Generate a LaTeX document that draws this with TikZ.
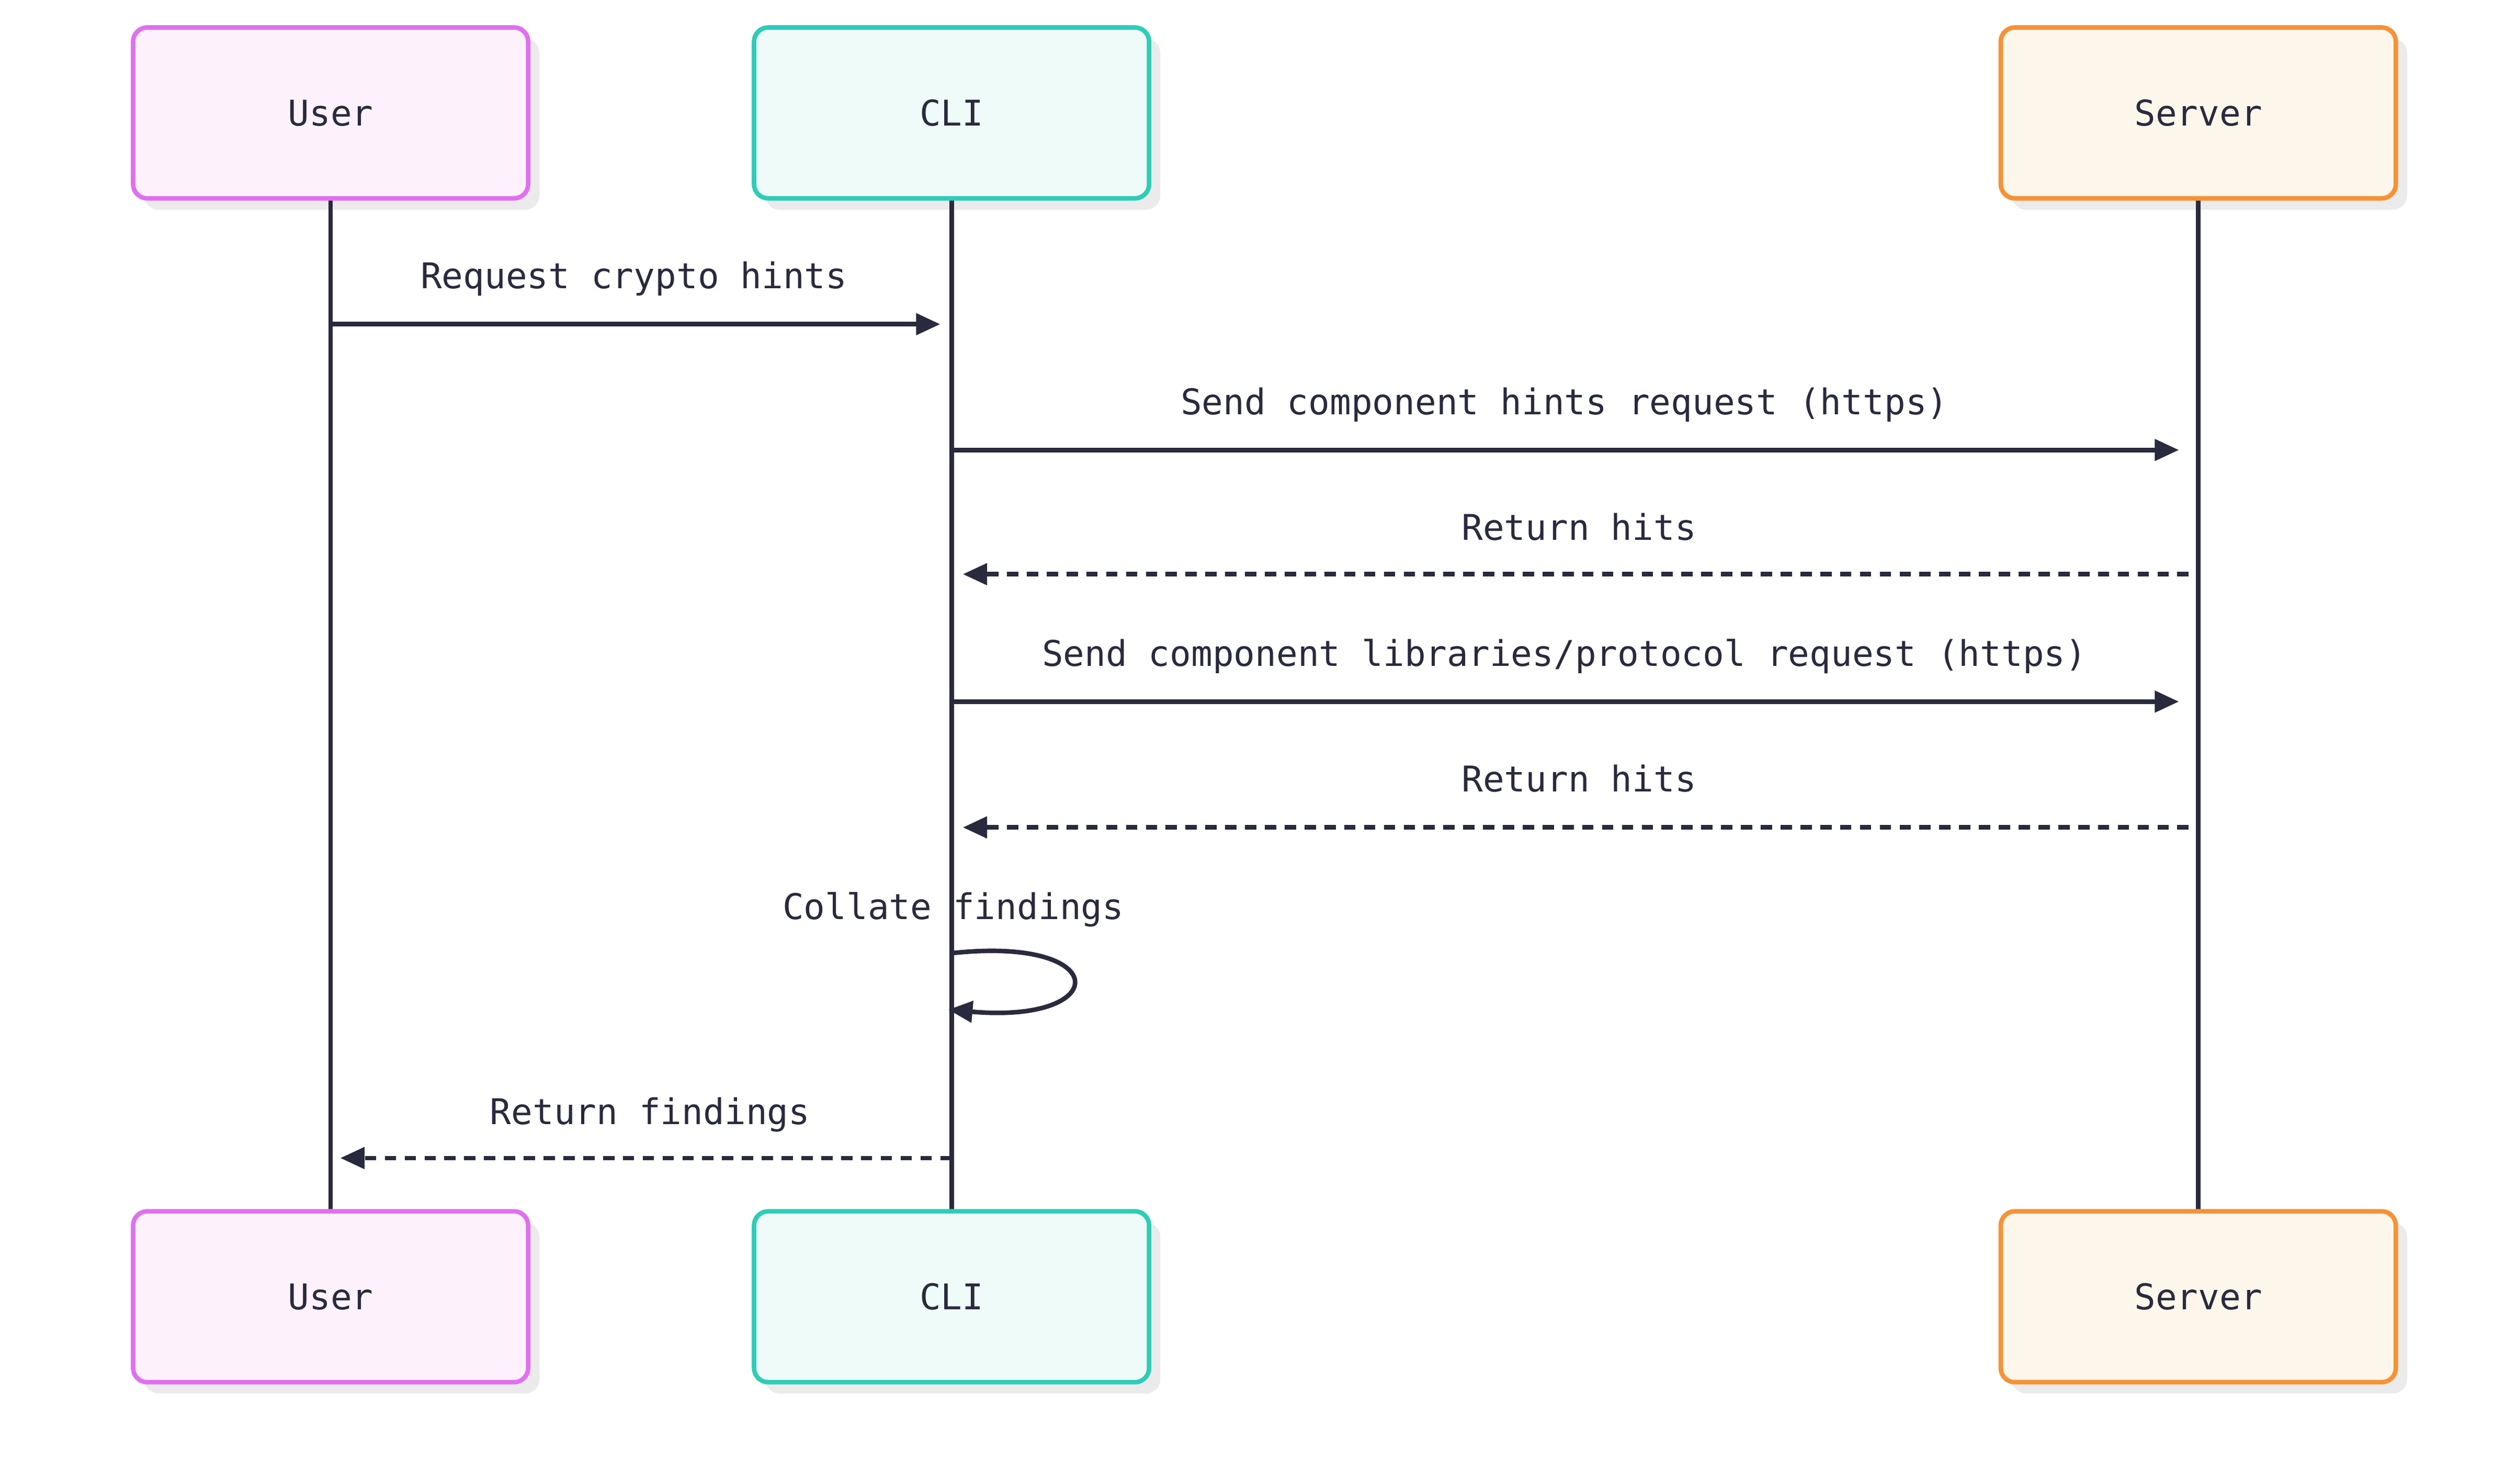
\documentclass[tikz,border=0pt]{standalone}
\usepackage{fontspec}
\setmonofont{DejaVu Sans Mono}
\usetikzlibrary{arrows.meta}
\definecolor{ink}{HTML}{2A2A3E}
\definecolor{ub}{HTML}{E070F0}\definecolor{uf}{HTML}{FDF2FC}
\definecolor{cb}{HTML}{2ECDB8}\definecolor{cf}{HTML}{EEFBF8}
\definecolor{sb}{HTML}{F79236}\definecolor{sf}{HTML}{FDF6EA}
\begin{document}
\begin{tikzpicture}[x=0.02cm,y=-0.02cm,
  font=\ttfamily\fontsize{12.5}{15}\selectfont, text=ink,
  actor/.style={draw, line width=1.6pt, rounded corners=5pt, minimum width=4.9cm, minimum height=2.12cm},
  shadow/.style={fill=black!8, rounded corners=5pt, minimum width=4.9cm, minimum height=2.12cm},
  life/.style={draw=ink, line width=1.6pt},
  msg/.style={draw=ink, line width=1.6pt, -{Triangle[length=0.3cm,width=0.26cm]}},
  ret/.style={msg, dash pattern=on 4pt off 3pt},
  lbl/.style={anchor=base}]
\useasboundingbox (0,0) rectangle (1560,920);
% shadows
\foreach \x in {212,597,1370}{
  \node[shadow] (sh\x a) at (\x,77) {};
  \node[shadow] (sh\x b) at (\x,811) {};}
% lifelines
\coordinate (u1) at (205,123); \coordinate (u2) at (205,751);
\coordinate (c1) at (590,123); \coordinate (c2) at (590,751);
\coordinate (s1) at (1363,123); \coordinate (s2) at (1363,751);
\draw[life] (u1)--(u2); \draw[life] (c1)--(c2); \draw[life] (s1)--(s2);
% boxes
\node[actor, draw=ub, fill=uf] (U) at (205,70) {User};
\node[actor, draw=cb, fill=cf] (C) at (590,70) {CLI};
\node[actor, draw=sb, fill=sf] (S) at (1363,70) {Server};
\node[actor, draw=ub, fill=uf] (Ub) at (205,804) {User};
\node[actor, draw=cb, fill=cf] (Cb) at (590,804) {CLI};
\node[actor, draw=sb, fill=sf] (Sb) at (1363,804) {Server};
% messages
\coordinate (m1a) at (205,201); \coordinate (m1b) at (583,201);
\draw[msg] (m1a)--(m1b);
\node[lbl] (l1) at (393,179) {Request crypto hints};
\coordinate (m2a) at (590,279); \coordinate (m2b) at (1351,279);
\draw[msg] (m2a)--(m2b);
\node[lbl] (l2) at (970,257) {Send component hints request (https)};
\coordinate (m3a) at (1357,356); \coordinate (m3b) at (597,356);
\draw[ret] (m3a)--(m3b);
\node[lbl] (l3) at (979,335) {Return hits};
\coordinate (m4a) at (590,435); \coordinate (m4b) at (1351,435);
\draw[msg] (m4a)--(m4b);
\node[lbl] (l4) at (970,413) {Send component libraries/protocol request (https)};
\coordinate (m5a) at (1357,513); \coordinate (m5b) at (597,513);
\draw[ret] (m5a)--(m5b);
\node[lbl] (l5) at (979,491) {Return hits};
\coordinate (m6a) at (590,591); \coordinate (m6b) at (588,626);
\draw[msg] (m6a) .. controls (690,580) and (690,635) .. (m6b);
\node[lbl] (l6) at (591,570) {Collate findings};
\coordinate (m7a) at (590,718); \coordinate (m7b) at (211,718);
\draw[ret] (m7a)--(m7b);
\node[lbl] (l7) at (403,697) {Return findings};
\end{tikzpicture}
\end{document}
